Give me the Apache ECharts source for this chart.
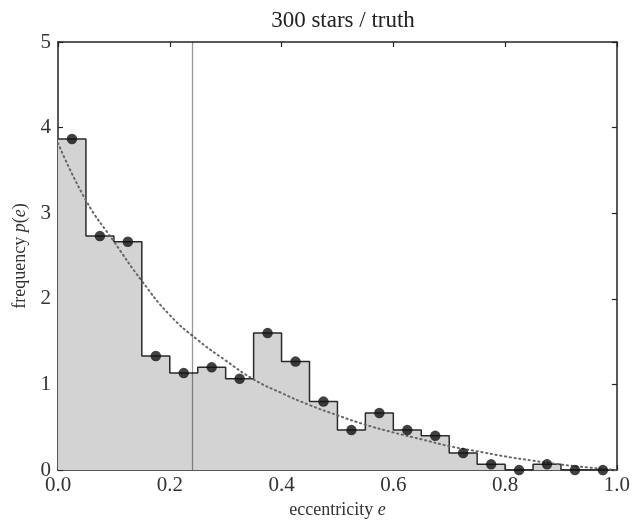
<!DOCTYPE html>
<html>
<head>
<meta charset="utf-8">
<script src="https://cdn.jsdelivr.net/npm/echarts@6/dist/echarts.min.js"></script>
<style>
  html, body { margin: 0; padding: 0; background: #fff; }
  #chart { width: 633px; height: 524px; }
</style>
</head>
<body>
<div id="chart"></div>
<script>
// Eccentricity histogram of 300 stars, normalised to a density (bin width 0.05).
const binEdges = [0.00, 0.05, 0.10, 0.15, 0.20, 0.25, 0.30, 0.35, 0.40, 0.45, 0.50,
                  0.55, 0.60, 0.65, 0.70, 0.75, 0.80, 0.85, 0.90, 0.95, 1.00];
const density = [3.867, 2.733, 2.667, 1.333, 1.133, 1.200, 1.067, 1.600, 1.267, 0.800,
                 0.467, 0.667, 0.467, 0.400, 0.200, 0.067, 0.000, 0.067, 0.000, 0.000];

// Underlying distribution, sampled along e.
const curveE = [0.00, 0.05, 0.10, 0.15, 0.20, 0.25, 0.30, 0.35, 0.40, 0.45, 0.50,
                0.55, 0.60, 0.65, 0.70, 0.75, 0.80, 0.85, 0.90, 0.95, 1.00];
const curveP = [3.82, 3.15, 2.67, 2.21, 1.81, 1.52, 1.28, 1.06, 0.90, 0.76, 0.64,
                0.53, 0.44, 0.36, 0.28, 0.22, 0.16, 0.11, 0.065, 0.03, 0.0];

// Vertical reference value of e.
const eMarker = [0.238];

const xTicks = [0.0, 0.2, 0.4, 0.6, 0.8, 1.0];
const yTicks = [0, 1, 2, 3, 4, 5];

const serif = '"Liberation Serif", "DejaVu Serif", serif';

// step outline: one point per left bin edge plus the final right edge
const stepData = density.map((v, i) => [binEdges[i], v]);
stepData.push([binEdges[binEdges.length - 1], density[density.length - 1]]);

const centres = density.map((v, i) => [(binEdges[i] + binEdges[i + 1]) / 2, v]);
const curveData = curveE.map((e, i) => [e, curveP[i]]);

const tickStyle = { inside: true, length: 5, lineStyle: { color: '#222', width: 1.2 } };
const lineStyle = { onZero: false, lineStyle: { color: '#222', width: 1.5 } };

const chart = echarts.init(document.getElementById('chart'), null, { renderer: 'canvas' });
chart.setOption({
  animation: false,
  backgroundColor: '#fff',
  title: {
    text: '300 stars / truth',
    left: 338, top: 4, textAlign: 'center',
    textStyle: { fontFamily: serif, fontSize: 23, fontWeight: 'normal', color: '#222' }
  },
  grid: { left: 58, right: 14, top: 42, bottom: 49, containLabel: false },
  xAxis: [{
    type: 'value', min: 0, max: 1, interval: 0.2, position: 'bottom',
    axisLine: lineStyle, axisTick: tickStyle, splitLine: { show: false },
    axisLabel: {
      margin: 5, fontFamily: serif, fontSize: 21, color: '#333',
      formatter: v => xTicks.includes(+v.toFixed(1)) ? v.toFixed(1) : ''
    },
    name: '{n|eccentricity }{i|e}', nameLocation: 'middle', nameGap: 26,
    nameTextStyle: {
      rich: {
        n: { fontFamily: serif, fontSize: 18, color: '#333' },
        i: { fontFamily: serif, fontSize: 18, fontStyle: 'italic', color: '#333' }
      }
    }
  }, {
    type: 'value', min: 0, max: 1, interval: 0.2, position: 'top',
    axisLine: lineStyle, axisTick: tickStyle, axisLabel: { show: false }, splitLine: { show: false }
  }],
  yAxis: [{
    type: 'value', min: 0, max: 5, interval: 1, position: 'left',
    axisLine: lineStyle, axisTick: tickStyle, splitLine: { show: false },
    axisLabel: {
      margin: 7, fontFamily: serif, fontSize: 21, color: '#333',
      formatter: v => yTicks.includes(v) ? String(v) : ''
    },
    name: '{n|frequency }{i|p}{n|(}{i|e}{n|)}', nameLocation: 'middle', nameGap: 28, nameRotate: 90,
    nameTextStyle: {
      rich: {
        n: { fontFamily: serif, fontSize: 18, color: '#333' },
        i: { fontFamily: serif, fontSize: 18, fontStyle: 'italic', color: '#333' }
      }
    }
  }, {
    type: 'value', min: 0, max: 5, interval: 1, position: 'right',
    axisLine: lineStyle, axisTick: tickStyle, axisLabel: { show: false }, splitLine: { show: false }
  }],
  series: [
    {
      // filled histogram with its outline
      type: 'line', data: stepData, step: 'end', symbol: 'none', z: 2,
      lineStyle: { color: '#2a2a2a', width: 1.5 },
      areaStyle: { color: '#d3d3d3', opacity: 1 },
      markLine: {
        silent: true, symbol: 'none', label: { show: false }, animation: false,
        lineStyle: { color: 'rgba(0,0,0,0.4)', width: 1.3, type: 'solid' },
        data: eMarker.map(x => ({ xAxis: x }))
      }
    },
    {
      type: 'line', data: curveData, smooth: true, symbol: 'none', z: 3,
      lineStyle: { color: '#666', width: 2, type: [1.2, 3.6], cap: 'round' }
    },
    {
      type: 'scatter', data: centres, symbol: 'circle', symbolSize: 10.5, z: 4,
      itemStyle: { color: '#111' }
    }
  ]
});
</script>
</body>
</html>
